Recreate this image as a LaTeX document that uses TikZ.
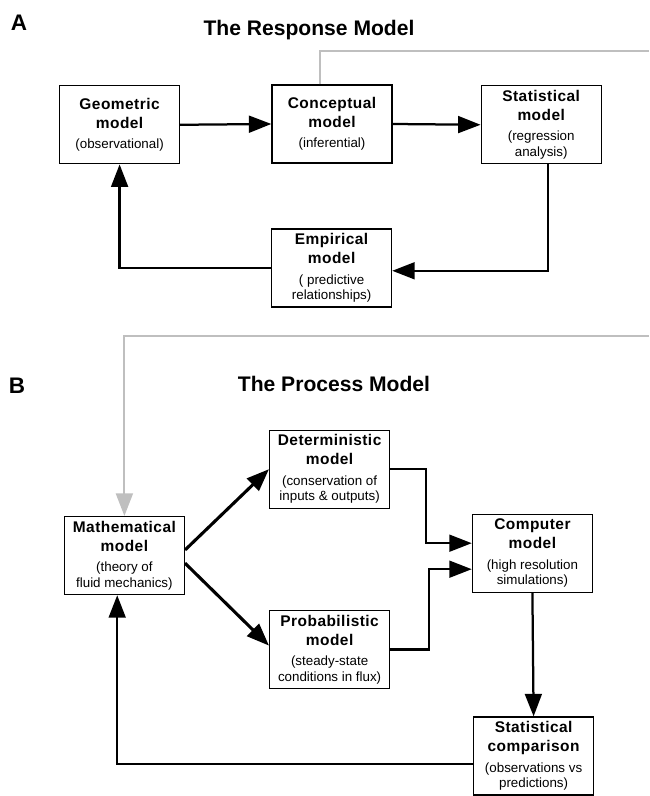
\documentclass[tikz,border=0pt]{standalone}
\usepackage{fontspec}
\setmainfont{Liberation Sans}
\newfontfamily\boxfont[LetterSpace=3]{Liberation Sans}
\usetikzlibrary{arrows.meta}

% box text: bold name on two lines, then a small note
\newcommand{\mhead}{\boxfont\bfseries\fontsize{11}{13.5}\selectfont}
\newcommand{\mtext}[3]{\mhead #1\\[2.5pt] \mhead #2\\[3.5pt] #3}

\tikzset{
	model/.style={draw, line width=0.9pt, minimum width=3cm, minimum height=1.95cm, inner sep=1pt, align=center, font=\fontsize{9.5}{11}\selectfont},
	flow/.style={line width=1.6pt, -{Triangle[length=16pt,width=12pt]}},
	link/.style={gray!50, line width=1.5pt},
	heading/.style={font=\fontsize{15}{18}\selectfont\bfseries},
	panel/.style={font=\fontsize{16}{19}\selectfont\bfseries}
}

\begin{document}
\begin{tikzpicture}
		\useasboundingbox (0,0) rectangle (16.225,19.9);

		% A: the response model
		\node[panel] (pa) at (0.475,19.325) {A};
		\node[heading] (ta) at (7.725,19.15) {The Response Model};

		\node[model] (geo) at (2.99,16.78) {\mtext{Geometric}{model}{(observational)}};
		\node[model] (con) at (8.3,16.8) {\mtext{Conceptual}{model}{(inferential)}};
		\node[model] (stat) at (13.53,16.78) {\mtext{Statistical}{model}{(regression\\ analysis)}};
		\node[model] (emp) at (8.29,13.2) {\mtext{Empirical}{model}{( predictive\\ relationships)}};

		\draw[flow] (geo.east) -- (con.west);
		\draw[flow] (con.east) -- (stat.west);
		\draw[flow] ([xshift=0.17cm]stat.south) |- ([yshift=-0.07cm]emp.east);
		\draw[flow] (emp.west) -| (geo.south);

		% grey link from A down to B
		\coordinate (rt) at (16.225,18.625);
		\coordinate (rb) at (16.225,11.5);
		\draw[link] ([xshift=-0.3cm]con.north) |- (rt);

		% B: the process model
		\node[panel] (pb) at (0.425,10.25) {B};
		\node[heading] (tb) at (8.35,10.3) {The Process Model};

		\node[model] (math) at (3.11,6.01) {\mtext{Mathematical}{model}{(theory of\\ fluid mechanics)}};
		\node[model] (det) at (8.24,8.17) {\mtext{Deterministic}{model}{(conservation of\\ inputs \& outputs)}};
		\node[model] (prob) at (8.24,3.66) {\mtext{Probabilistic}{model}{(steady-state\\ conditions in flux)}};
		\node[model] (comp) at (13.31,6.07) {\mtext{Computer}{model}{(high resolution\\ simulations)}};
		\node[model] (scmp) at (13.34,1.0) {\mtext{Statistical}{comparison}{(observations vs\\ predictions)}};

		\draw[link, -{Triangle[length=16pt,width=12pt]}] (rb) -| (math.north);

		\draw[flow, line width=2.2pt] ([yshift=0.14cm]math.east) -- (det.west);
		\draw[flow, line width=2.2pt] ([yshift=-0.19cm]math.east) -- ([yshift=0.1cm]prob.west);
		\draw[flow] (det.east) -- ++(0.9,0) |- ([yshift=0.25cm]comp.west);
		\draw[flow] (prob.east) -- ++(0.96,0) |- ([yshift=-0.4cm]comp.west);
		\draw[flow] (comp.south) -- (scmp.north);
		\draw[flow] ([yshift=-0.2cm]scmp.west) -| ([xshift=-0.18cm]math.south);
	\end{tikzpicture}
\end{document}
